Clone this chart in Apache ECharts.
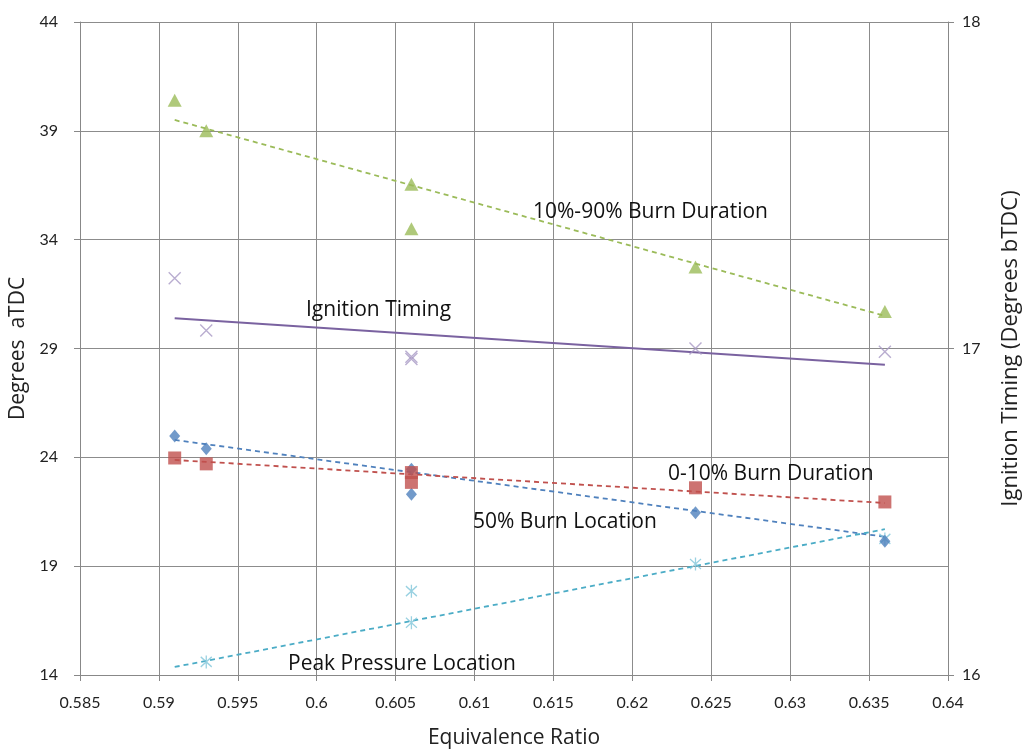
<!DOCTYPE html>
<html><head><meta charset="utf-8">
<script src="https://cdn.jsdelivr.net/npm/echarts@6/dist/echarts.min.js"></script>
<style>html,body{margin:0;padding:0;background:#fff}#c{width:1027px;height:752px}</style>
</head><body><div id="c"></div>
<script>
const xTicks = ['0.585','0.59','0.595','0.6','0.605','0.61','0.615','0.62','0.625','0.63','0.635','0.64'];
const leftTicks = ['14','19','24','29','34','39','44'];
const rightTicks = ['16','17','18'];

const burn1090 = [[0.591,40.4],[0.593,39.0],[0.606,36.55],[0.606,34.5],[0.624,32.75],[0.636,30.7]];
const ignition = [[0.591,17.215],[0.593,17.055],[0.606,16.975],[0.606,16.968],[0.624,17.0],[0.636,16.99]];
const burn50 = [[0.591,24.98],[0.593,24.4],[0.606,23.45],[0.606,22.3],[0.624,21.45],[0.636,20.15]];
const burn010 = [[0.591,23.97],[0.593,23.7],[0.606,23.3],[0.606,22.85],[0.624,22.6],[0.636,21.95]];
const peak = [[0.593,14.6],[0.606,17.85],[0.606,16.4],[0.624,19.1],[0.636,20.25]];

const trend1090 = [[0.591,39.5],[0.636,30.5]];
const trendIgn = [[0.591,17.093],[0.636,16.95]];
const trend50 = [[0.591,24.8],[0.636,20.35]];
const trend010 = [[0.591,23.88],[0.636,21.9]];
const trendPeak = [[0.591,14.37],[0.636,20.7]];

const labels = [
  {text:'10%-90% Burn Duration', x:533, y:210},
  {text:'Ignition Timing', x:306, y:308},
  {text:'0-10% Burn Duration', x:668, y:472},
  {text:'50% Burn Location', x:473, y:520},
  {text:'Peak Pressure Location', x:288, y:662}
];

const FONT = '"Open Sans", Lato, sans-serif';
const TFONT = 'Lato, "Open Sans", sans-serif';
const xPath = 'path://M0,0 L10,10 M10,0 L0,10';
const starPath = 'path://M0,0 L10,10 M10,0 L0,10 M5,-1.5 L5,11.5';

function trendLine(data, color, dashed, yIdx){
  return {type:'line', data:data, yAxisIndex:yIdx||0, symbol:'none', silent:true, z:1,
    lineStyle:{color:color, width:dashed?1.8:2, type:dashed?[5,4]:'solid'}};
}

const chart = echarts.init(document.getElementById('c'));
chart.setOption({
  animation:false,
  grid:{left:80, right:79, top:22, bottom:77, containLabel:false, outerBoundsMode:'none'},
  xAxis:{type:'value', min:0.585, max:0.64, interval:0.005,
    axisLine:{show:true, lineStyle:{color:'#888'}},
    axisTick:{show:true, length:6, lineStyle:{color:'#888'}},
    splitLine:{show:true, lineStyle:{color:'#8c8c8c', width:1}},
    axisLabel:{color:'#222', fontSize:16, fontFamily:TFONT, margin:20,
      formatter:(v)=>xTicks[Math.round((v-0.585)/0.005)]},
    name:'Equivalence Ratio', nameLocation:'middle', nameGap:53,
    nameTextStyle:{color:'#222', fontSize:21, fontFamily:FONT}},
  yAxis:[
    {type:'value', min:14, max:44, interval:5, position:'left',
      axisLine:{show:true, lineStyle:{color:'#888'}},
      axisTick:{show:true, length:6, lineStyle:{color:'#888'}},
      splitLine:{show:true, lineStyle:{color:'#8c8c8c', width:1}},
      axisLabel:{color:'#222', fontSize:16, fontFamily:TFONT, margin:22,
        formatter:(v)=>leftTicks[Math.round((v-14)/5)]},
      name:'Degrees  aTDC', nameLocation:'middle', nameGap:51, nameRotate:90,
      nameTextStyle:{color:'#222', fontSize:21, fontFamily:FONT}},
    {type:'value', min:16, max:18, interval:1, position:'right',
      axisLine:{show:true, lineStyle:{color:'#888'}},
      axisTick:{show:true, length:6, lineStyle:{color:'#888'}},
      splitLine:{show:false},
      axisLabel:{color:'#222', fontSize:16, fontFamily:TFONT, margin:14,
        formatter:(v)=>rightTicks[Math.round(v-16)]},
      name:'Ignition Timing (Degrees bTDC)', nameLocation:'middle', nameGap:52, nameRotate:90,
      nameTextStyle:{color:'#222', fontSize:22, fontFamily:FONT}}
  ],
  series:[
    trendLine(trend1090,'#9BBB59',true),
    trendLine(trendIgn,'#7A62A0',false,1),
    trendLine(trend50,'#4F81BD',true),
    trendLine(trend010,'#C0504D',true),
    trendLine(trendPeak,'#4BACC6',true),
    {type:'scatter', data:burn1090, symbol:'triangle', symbolSize:[14,13], z:3,
      itemStyle:{color:'#9BBB59'}},
    {type:'scatter', data:ignition, yAxisIndex:1, symbol:xPath, symbolSize:12, z:3,
      itemStyle:{color:'rgba(0,0,0,0)', borderColor:'#A798C4', borderWidth:1.4}},
    {type:'scatter', data:peak, symbol:starPath, symbolSize:[11,13], z:3,
      itemStyle:{color:'rgba(0,0,0,0)', borderColor:'#7FC5D9', borderWidth:1.4}},
    {type:'scatter', data:burn50, symbol:'diamond', symbolSize:[11,13], z:4,
      itemStyle:{color:'#4F81BD'}},
    {type:'scatter', data:burn010, symbol:'rect', symbolSize:13, z:5,
      itemStyle:{color:'#C0504D'}}
  ],
  graphic: labels.map(l=>({type:'text', left:l.x, top:l.y-8, z:10,
    style:{text:l.text, fill:'#111', font:'21px '+FONT, textVerticalAlign:'middle'}}))
});
</script></body></html>
